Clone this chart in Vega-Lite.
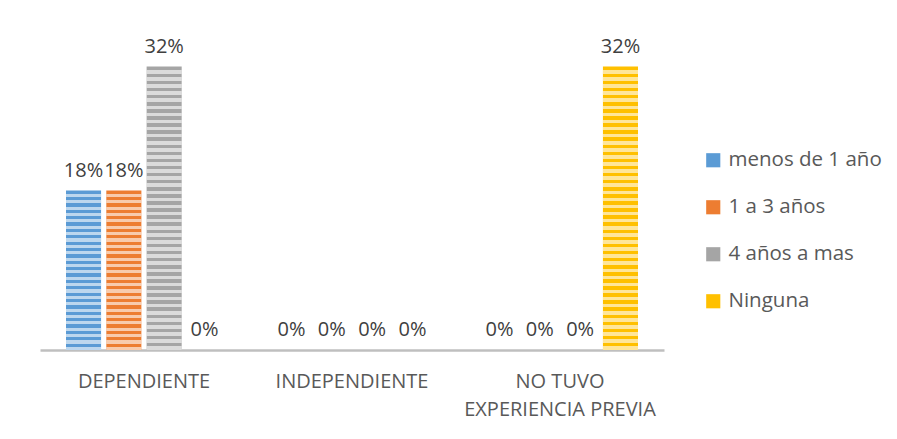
{
  "$schema": "https://vega.github.io/schema/vega-lite/v6.json",
  "width": 624,
  "height": 310,
  "padding": {"left": 40, "top": 36, "right": 10, "bottom": 10},
  "background": "white",
  "config": {"view": {"stroke": null}, "font": "Open Sans"},
  "data": {
    "values": [
      {"cat": "DEPENDIENTE", "serie": "menos de 1 año", "value": 0.18, "label": "18%"},
      {"cat": "DEPENDIENTE", "serie": "1 a 3 años", "value": 0.18, "label": "18%"},
      {"cat": "DEPENDIENTE", "serie": "4 años a mas", "value": 0.32, "label": "32%"},
      {"cat": "DEPENDIENTE", "serie": "Ninguna", "value": 0, "label": "0%"},
      {"cat": "INDEPENDIENTE", "serie": "menos de 1 año", "value": 0, "label": "0%"},
      {"cat": "INDEPENDIENTE", "serie": "1 a 3 años", "value": 0, "label": "0%"},
      {"cat": "INDEPENDIENTE", "serie": "4 años a mas", "value": 0, "label": "0%"},
      {"cat": "INDEPENDIENTE", "serie": "Ninguna", "value": 0, "label": "0%"},
      {"cat": "NO TUVO EXPERIENCIA PREVIA", "serie": "menos de 1 año", "value": 0, "label": "0%"},
      {"cat": "NO TUVO EXPERIENCIA PREVIA", "serie": "1 a 3 años", "value": 0, "label": "0%"},
      {"cat": "NO TUVO EXPERIENCIA PREVIA", "serie": "4 años a mas", "value": 0, "label": "0%"},
      {"cat": "NO TUVO EXPERIENCIA PREVIA", "serie": "Ninguna", "value": 0.32, "label": "32%"}
    ]
  },
  "encoding": {
    "x": {
      "field": "cat",
      "type": "nominal",
      "sort": ["DEPENDIENTE", "INDEPENDIENTE", "NO TUVO EXPERIENCIA PREVIA"],
      "scale": {"paddingInner": 0, "paddingOuter": 0},
      "axis": {
        "title": null,
        "labelAngle": 0,
        "ticks": false,
        "domainColor": "#bfbfbf",
        "domainWidth": 2.5,
        "labelFontSize": 20,
        "labelColor": "#595959",
        "labelPadding": 21,
        "labelLineHeight": 28,
        "labelLimit": 400,
        "labelExpr": "datum.value == 'NO TUVO EXPERIENCIA PREVIA' ? ['NO TUVO', 'EXPERIENCIA PREVIA'] : datum.value"
      }
    },
    "xOffset": {
      "field": "serie",
      "type": "nominal",
      "sort": ["menos de 1 año", "1 a 3 años", "4 años a mas", "Ninguna"],
      "scale": {"paddingInner": 0.13, "paddingOuter": 0.645}
    },
    "y": {
      "field": "value",
      "type": "quantitative",
      "scale": {"domain": [0, 0.35]},
      "axis": null
    }
  },
  "layer": [
    {
      "mark": {"type": "bar"},
      "encoding": {
        "color": {
          "field": "serie",
          "type": "nominal",
          "sort": ["menos de 1 año", "1 a 3 años", "4 años a mas", "Ninguna"],
          "scale": {
            "domain": ["menos de 1 año", "1 a 3 años", "4 años a mas", "Ninguna"],
            "range": ["#5B9BD5", "#ED7D31", "#A5A5A5", "#FFC000"]
          },
          "legend": {
            "title": null,
            "orient": "none",
            "legendX": 663,
            "legendY": 110,
            "symbolType": "square",
            "symbolSize": 200,
            "symbolStrokeWidth": 0,
            "labelFontSize": 20.5,
            "labelColor": "#595959",
            "labelOffset": 5,
            "labelLimit": 300,
            "rowPadding": 26
          }
        }
      }
    },
    {
      "transform": [{"filter": "datum.value > 0.25"}],
      "mark": {
        "type": "bar",
        "fill": {
          "gradient": "linear", "x1": 0, "y1": 0, "x2": 0, "y2": 1,
          "stops": [
            {"offset": 0, "color": "rgba(255,255,255,0)"}, {"offset": 0.0125, "color": "rgba(255,255,255,0)"}, {"offset": 0.0125, "color": "rgba(255,255,255,0.6)"}, {"offset": 0.025, "color": "rgba(255,255,255,0.6)"},
            {"offset": 0.025, "color": "rgba(255,255,255,0)"}, {"offset": 0.0375, "color": "rgba(255,255,255,0)"}, {"offset": 0.0375, "color": "rgba(255,255,255,0.6)"}, {"offset": 0.05, "color": "rgba(255,255,255,0.6)"},
            {"offset": 0.05, "color": "rgba(255,255,255,0)"}, {"offset": 0.0625, "color": "rgba(255,255,255,0)"}, {"offset": 0.0625, "color": "rgba(255,255,255,0.6)"}, {"offset": 0.075, "color": "rgba(255,255,255,0.6)"},
            {"offset": 0.075, "color": "rgba(255,255,255,0)"}, {"offset": 0.0875, "color": "rgba(255,255,255,0)"}, {"offset": 0.0875, "color": "rgba(255,255,255,0.6)"}, {"offset": 0.1, "color": "rgba(255,255,255,0.6)"},
            {"offset": 0.1, "color": "rgba(255,255,255,0)"}, {"offset": 0.1125, "color": "rgba(255,255,255,0)"}, {"offset": 0.1125, "color": "rgba(255,255,255,0.6)"}, {"offset": 0.125, "color": "rgba(255,255,255,0.6)"},
            {"offset": 0.125, "color": "rgba(255,255,255,0)"}, {"offset": 0.1375, "color": "rgba(255,255,255,0)"}, {"offset": 0.1375, "color": "rgba(255,255,255,0.6)"}, {"offset": 0.15, "color": "rgba(255,255,255,0.6)"},
            {"offset": 0.15, "color": "rgba(255,255,255,0)"}, {"offset": 0.1625, "color": "rgba(255,255,255,0)"}, {"offset": 0.1625, "color": "rgba(255,255,255,0.6)"}, {"offset": 0.175, "color": "rgba(255,255,255,0.6)"},
            {"offset": 0.175, "color": "rgba(255,255,255,0)"}, {"offset": 0.1875, "color": "rgba(255,255,255,0)"}, {"offset": 0.1875, "color": "rgba(255,255,255,0.6)"}, {"offset": 0.2, "color": "rgba(255,255,255,0.6)"},
            {"offset": 0.2, "color": "rgba(255,255,255,0)"}, {"offset": 0.2125, "color": "rgba(255,255,255,0)"}, {"offset": 0.2125, "color": "rgba(255,255,255,0.6)"}, {"offset": 0.225, "color": "rgba(255,255,255,0.6)"},
            {"offset": 0.225, "color": "rgba(255,255,255,0)"}, {"offset": 0.2375, "color": "rgba(255,255,255,0)"}, {"offset": 0.2375, "color": "rgba(255,255,255,0.6)"}, {"offset": 0.25, "color": "rgba(255,255,255,0.6)"},
            {"offset": 0.25, "color": "rgba(255,255,255,0)"}, {"offset": 0.2625, "color": "rgba(255,255,255,0)"}, {"offset": 0.2625, "color": "rgba(255,255,255,0.6)"}, {"offset": 0.275, "color": "rgba(255,255,255,0.6)"},
            {"offset": 0.275, "color": "rgba(255,255,255,0)"}, {"offset": 0.2875, "color": "rgba(255,255,255,0)"}, {"offset": 0.2875, "color": "rgba(255,255,255,0.6)"}, {"offset": 0.3, "color": "rgba(255,255,255,0.6)"},
            {"offset": 0.3, "color": "rgba(255,255,255,0)"}, {"offset": 0.3125, "color": "rgba(255,255,255,0)"}, {"offset": 0.3125, "color": "rgba(255,255,255,0.6)"}, {"offset": 0.325, "color": "rgba(255,255,255,0.6)"},
            {"offset": 0.325, "color": "rgba(255,255,255,0)"}, {"offset": 0.3375, "color": "rgba(255,255,255,0)"}, {"offset": 0.3375, "color": "rgba(255,255,255,0.6)"}, {"offset": 0.35, "color": "rgba(255,255,255,0.6)"},
            {"offset": 0.35, "color": "rgba(255,255,255,0)"}, {"offset": 0.3625, "color": "rgba(255,255,255,0)"}, {"offset": 0.3625, "color": "rgba(255,255,255,0.6)"}, {"offset": 0.375, "color": "rgba(255,255,255,0.6)"},
            {"offset": 0.375, "color": "rgba(255,255,255,0)"}, {"offset": 0.3875, "color": "rgba(255,255,255,0)"}, {"offset": 0.3875, "color": "rgba(255,255,255,0.6)"}, {"offset": 0.4, "color": "rgba(255,255,255,0.6)"},
            {"offset": 0.4, "color": "rgba(255,255,255,0)"}, {"offset": 0.4125, "color": "rgba(255,255,255,0)"}, {"offset": 0.4125, "color": "rgba(255,255,255,0.6)"}, {"offset": 0.425, "color": "rgba(255,255,255,0.6)"},
            {"offset": 0.425, "color": "rgba(255,255,255,0)"}, {"offset": 0.4375, "color": "rgba(255,255,255,0)"}, {"offset": 0.4375, "color": "rgba(255,255,255,0.6)"}, {"offset": 0.45, "color": "rgba(255,255,255,0.6)"},
            {"offset": 0.45, "color": "rgba(255,255,255,0)"}, {"offset": 0.4625, "color": "rgba(255,255,255,0)"}, {"offset": 0.4625, "color": "rgba(255,255,255,0.6)"}, {"offset": 0.475, "color": "rgba(255,255,255,0.6)"},
            {"offset": 0.475, "color": "rgba(255,255,255,0)"}, {"offset": 0.4875, "color": "rgba(255,255,255,0)"}, {"offset": 0.4875, "color": "rgba(255,255,255,0.6)"}, {"offset": 0.5, "color": "rgba(255,255,255,0.6)"},
            {"offset": 0.5, "color": "rgba(255,255,255,0)"}, {"offset": 0.5125, "color": "rgba(255,255,255,0)"}, {"offset": 0.5125, "color": "rgba(255,255,255,0.6)"}, {"offset": 0.525, "color": "rgba(255,255,255,0.6)"},
            {"offset": 0.525, "color": "rgba(255,255,255,0)"}, {"offset": 0.5375, "color": "rgba(255,255,255,0)"}, {"offset": 0.5375, "color": "rgba(255,255,255,0.6)"}, {"offset": 0.55, "color": "rgba(255,255,255,0.6)"},
            {"offset": 0.55, "color": "rgba(255,255,255,0)"}, {"offset": 0.5625, "color": "rgba(255,255,255,0)"}, {"offset": 0.5625, "color": "rgba(255,255,255,0.6)"}, {"offset": 0.575, "color": "rgba(255,255,255,0.6)"},
            {"offset": 0.575, "color": "rgba(255,255,255,0)"}, {"offset": 0.5875, "color": "rgba(255,255,255,0)"}, {"offset": 0.5875, "color": "rgba(255,255,255,0.6)"}, {"offset": 0.6, "color": "rgba(255,255,255,0.6)"},
            {"offset": 0.6, "color": "rgba(255,255,255,0)"}, {"offset": 0.6125, "color": "rgba(255,255,255,0)"}, {"offset": 0.6125, "color": "rgba(255,255,255,0.6)"}, {"offset": 0.625, "color": "rgba(255,255,255,0.6)"},
            {"offset": 0.625, "color": "rgba(255,255,255,0)"}, {"offset": 0.6375, "color": "rgba(255,255,255,0)"}, {"offset": 0.6375, "color": "rgba(255,255,255,0.6)"}, {"offset": 0.65, "color": "rgba(255,255,255,0.6)"},
            {"offset": 0.65, "color": "rgba(255,255,255,0)"}, {"offset": 0.6625, "color": "rgba(255,255,255,0)"}, {"offset": 0.6625, "color": "rgba(255,255,255,0.6)"}, {"offset": 0.675, "color": "rgba(255,255,255,0.6)"},
            {"offset": 0.675, "color": "rgba(255,255,255,0)"}, {"offset": 0.6875, "color": "rgba(255,255,255,0)"}, {"offset": 0.6875, "color": "rgba(255,255,255,0.6)"}, {"offset": 0.7, "color": "rgba(255,255,255,0.6)"},
            {"offset": 0.7, "color": "rgba(255,255,255,0)"}, {"offset": 0.7125, "color": "rgba(255,255,255,0)"}, {"offset": 0.7125, "color": "rgba(255,255,255,0.6)"}, {"offset": 0.725, "color": "rgba(255,255,255,0.6)"},
            {"offset": 0.725, "color": "rgba(255,255,255,0)"}, {"offset": 0.7375, "color": "rgba(255,255,255,0)"}, {"offset": 0.7375, "color": "rgba(255,255,255,0.6)"}, {"offset": 0.75, "color": "rgba(255,255,255,0.6)"},
            {"offset": 0.75, "color": "rgba(255,255,255,0)"}, {"offset": 0.7625, "color": "rgba(255,255,255,0)"}, {"offset": 0.7625, "color": "rgba(255,255,255,0.6)"}, {"offset": 0.775, "color": "rgba(255,255,255,0.6)"},
            {"offset": 0.775, "color": "rgba(255,255,255,0)"}, {"offset": 0.7875, "color": "rgba(255,255,255,0)"}, {"offset": 0.7875, "color": "rgba(255,255,255,0.6)"}, {"offset": 0.8, "color": "rgba(255,255,255,0.6)"},
            {"offset": 0.8, "color": "rgba(255,255,255,0)"}, {"offset": 0.8125, "color": "rgba(255,255,255,0)"}, {"offset": 0.8125, "color": "rgba(255,255,255,0.6)"}, {"offset": 0.825, "color": "rgba(255,255,255,0.6)"},
            {"offset": 0.825, "color": "rgba(255,255,255,0)"}, {"offset": 0.8375, "color": "rgba(255,255,255,0)"}, {"offset": 0.8375, "color": "rgba(255,255,255,0.6)"}, {"offset": 0.85, "color": "rgba(255,255,255,0.6)"},
            {"offset": 0.85, "color": "rgba(255,255,255,0)"}, {"offset": 0.8625, "color": "rgba(255,255,255,0)"}, {"offset": 0.8625, "color": "rgba(255,255,255,0.6)"}, {"offset": 0.875, "color": "rgba(255,255,255,0.6)"},
            {"offset": 0.875, "color": "rgba(255,255,255,0)"}, {"offset": 0.8875, "color": "rgba(255,255,255,0)"}, {"offset": 0.8875, "color": "rgba(255,255,255,0.6)"}, {"offset": 0.9, "color": "rgba(255,255,255,0.6)"},
            {"offset": 0.9, "color": "rgba(255,255,255,0)"}, {"offset": 0.9125, "color": "rgba(255,255,255,0)"}, {"offset": 0.9125, "color": "rgba(255,255,255,0.6)"}, {"offset": 0.925, "color": "rgba(255,255,255,0.6)"},
            {"offset": 0.925, "color": "rgba(255,255,255,0)"}, {"offset": 0.9375, "color": "rgba(255,255,255,0)"}, {"offset": 0.9375, "color": "rgba(255,255,255,0.6)"}, {"offset": 0.95, "color": "rgba(255,255,255,0.6)"},
            {"offset": 0.95, "color": "rgba(255,255,255,0)"}, {"offset": 0.9625, "color": "rgba(255,255,255,0)"}, {"offset": 0.9625, "color": "rgba(255,255,255,0.6)"}, {"offset": 0.975, "color": "rgba(255,255,255,0.6)"},
            {"offset": 0.975, "color": "rgba(255,255,255,0)"}, {"offset": 0.9875, "color": "rgba(255,255,255,0)"}, {"offset": 0.9875, "color": "rgba(255,255,255,0.6)"}, {"offset": 1, "color": "rgba(255,255,255,0.6)"}
          ]
        }
      }
    },
    {
      "transform": [{"filter": "datum.value > 0 && datum.value <= 0.25"}],
      "mark": {
        "type": "bar",
        "fill": {
          "gradient": "linear", "x1": 0, "y1": 0, "x2": 0, "y2": 1,
          "stops": [
            {"offset": 0, "color": "rgba(255,255,255,0)"}, {"offset": 0.02, "color": "rgba(255,255,255,0)"}, {"offset": 0.02, "color": "rgba(255,255,255,0.6)"}, {"offset": 0.04, "color": "rgba(255,255,255,0.6)"},
            {"offset": 0.04, "color": "rgba(255,255,255,0)"}, {"offset": 0.06, "color": "rgba(255,255,255,0)"}, {"offset": 0.06, "color": "rgba(255,255,255,0.6)"}, {"offset": 0.08, "color": "rgba(255,255,255,0.6)"},
            {"offset": 0.08, "color": "rgba(255,255,255,0)"}, {"offset": 0.1, "color": "rgba(255,255,255,0)"}, {"offset": 0.1, "color": "rgba(255,255,255,0.6)"}, {"offset": 0.12, "color": "rgba(255,255,255,0.6)"},
            {"offset": 0.12, "color": "rgba(255,255,255,0)"}, {"offset": 0.14, "color": "rgba(255,255,255,0)"}, {"offset": 0.14, "color": "rgba(255,255,255,0.6)"}, {"offset": 0.16, "color": "rgba(255,255,255,0.6)"},
            {"offset": 0.16, "color": "rgba(255,255,255,0)"}, {"offset": 0.18, "color": "rgba(255,255,255,0)"}, {"offset": 0.18, "color": "rgba(255,255,255,0.6)"}, {"offset": 0.2, "color": "rgba(255,255,255,0.6)"},
            {"offset": 0.2, "color": "rgba(255,255,255,0)"}, {"offset": 0.22, "color": "rgba(255,255,255,0)"}, {"offset": 0.22, "color": "rgba(255,255,255,0.6)"}, {"offset": 0.24, "color": "rgba(255,255,255,0.6)"},
            {"offset": 0.24, "color": "rgba(255,255,255,0)"}, {"offset": 0.26, "color": "rgba(255,255,255,0)"}, {"offset": 0.26, "color": "rgba(255,255,255,0.6)"}, {"offset": 0.28, "color": "rgba(255,255,255,0.6)"},
            {"offset": 0.28, "color": "rgba(255,255,255,0)"}, {"offset": 0.3, "color": "rgba(255,255,255,0)"}, {"offset": 0.3, "color": "rgba(255,255,255,0.6)"}, {"offset": 0.32, "color": "rgba(255,255,255,0.6)"},
            {"offset": 0.32, "color": "rgba(255,255,255,0)"}, {"offset": 0.34, "color": "rgba(255,255,255,0)"}, {"offset": 0.34, "color": "rgba(255,255,255,0.6)"}, {"offset": 0.36, "color": "rgba(255,255,255,0.6)"},
            {"offset": 0.36, "color": "rgba(255,255,255,0)"}, {"offset": 0.38, "color": "rgba(255,255,255,0)"}, {"offset": 0.38, "color": "rgba(255,255,255,0.6)"}, {"offset": 0.4, "color": "rgba(255,255,255,0.6)"},
            {"offset": 0.4, "color": "rgba(255,255,255,0)"}, {"offset": 0.42, "color": "rgba(255,255,255,0)"}, {"offset": 0.42, "color": "rgba(255,255,255,0.6)"}, {"offset": 0.44, "color": "rgba(255,255,255,0.6)"},
            {"offset": 0.44, "color": "rgba(255,255,255,0)"}, {"offset": 0.46, "color": "rgba(255,255,255,0)"}, {"offset": 0.46, "color": "rgba(255,255,255,0.6)"}, {"offset": 0.48, "color": "rgba(255,255,255,0.6)"},
            {"offset": 0.48, "color": "rgba(255,255,255,0)"}, {"offset": 0.5, "color": "rgba(255,255,255,0)"}, {"offset": 0.5, "color": "rgba(255,255,255,0.6)"}, {"offset": 0.52, "color": "rgba(255,255,255,0.6)"},
            {"offset": 0.52, "color": "rgba(255,255,255,0)"}, {"offset": 0.54, "color": "rgba(255,255,255,0)"}, {"offset": 0.54, "color": "rgba(255,255,255,0.6)"}, {"offset": 0.56, "color": "rgba(255,255,255,0.6)"},
            {"offset": 0.56, "color": "rgba(255,255,255,0)"}, {"offset": 0.58, "color": "rgba(255,255,255,0)"}, {"offset": 0.58, "color": "rgba(255,255,255,0.6)"}, {"offset": 0.6, "color": "rgba(255,255,255,0.6)"},
            {"offset": 0.6, "color": "rgba(255,255,255,0)"}, {"offset": 0.62, "color": "rgba(255,255,255,0)"}, {"offset": 0.62, "color": "rgba(255,255,255,0.6)"}, {"offset": 0.64, "color": "rgba(255,255,255,0.6)"},
            {"offset": 0.64, "color": "rgba(255,255,255,0)"}, {"offset": 0.66, "color": "rgba(255,255,255,0)"}, {"offset": 0.66, "color": "rgba(255,255,255,0.6)"}, {"offset": 0.68, "color": "rgba(255,255,255,0.6)"},
            {"offset": 0.68, "color": "rgba(255,255,255,0)"}, {"offset": 0.7, "color": "rgba(255,255,255,0)"}, {"offset": 0.7, "color": "rgba(255,255,255,0.6)"}, {"offset": 0.72, "color": "rgba(255,255,255,0.6)"},
            {"offset": 0.72, "color": "rgba(255,255,255,0)"}, {"offset": 0.74, "color": "rgba(255,255,255,0)"}, {"offset": 0.74, "color": "rgba(255,255,255,0.6)"}, {"offset": 0.76, "color": "rgba(255,255,255,0.6)"},
            {"offset": 0.76, "color": "rgba(255,255,255,0)"}, {"offset": 0.78, "color": "rgba(255,255,255,0)"}, {"offset": 0.78, "color": "rgba(255,255,255,0.6)"}, {"offset": 0.8, "color": "rgba(255,255,255,0.6)"},
            {"offset": 0.8, "color": "rgba(255,255,255,0)"}, {"offset": 0.82, "color": "rgba(255,255,255,0)"}, {"offset": 0.82, "color": "rgba(255,255,255,0.6)"}, {"offset": 0.84, "color": "rgba(255,255,255,0.6)"},
            {"offset": 0.84, "color": "rgba(255,255,255,0)"}, {"offset": 0.86, "color": "rgba(255,255,255,0)"}, {"offset": 0.86, "color": "rgba(255,255,255,0.6)"}, {"offset": 0.88, "color": "rgba(255,255,255,0.6)"},
            {"offset": 0.88, "color": "rgba(255,255,255,0)"}, {"offset": 0.9, "color": "rgba(255,255,255,0)"}, {"offset": 0.9, "color": "rgba(255,255,255,0.6)"}, {"offset": 0.92, "color": "rgba(255,255,255,0.6)"},
            {"offset": 0.92, "color": "rgba(255,255,255,0)"}, {"offset": 0.94, "color": "rgba(255,255,255,0)"}, {"offset": 0.94, "color": "rgba(255,255,255,0.6)"}, {"offset": 0.96, "color": "rgba(255,255,255,0.6)"},
            {"offset": 0.96, "color": "rgba(255,255,255,0)"}, {"offset": 0.98, "color": "rgba(255,255,255,0)"}, {"offset": 0.98, "color": "rgba(255,255,255,0.6)"}, {"offset": 1, "color": "rgba(255,255,255,0.6)"}
          ]
        }
      }
    },
    {
      "mark": {"type": "text", "baseline": "bottom", "dy": -10, "fontSize": 20, "color": "#404040"},
      "encoding": {"text": {"field": "label"}}
    }
  ]
}
